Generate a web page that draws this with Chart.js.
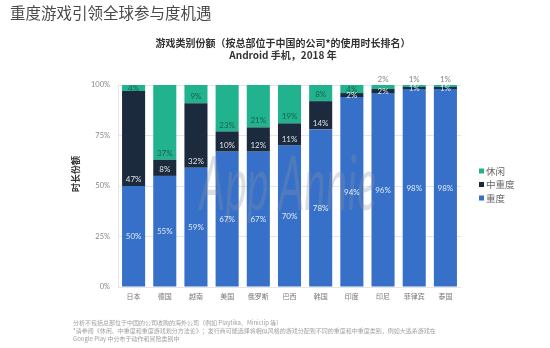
<!DOCTYPE html>
<html>
<head>
<meta charset="utf-8">
<script src="https://cdn.jsdelivr.net/npm/chart.js@4.4.0/dist/chart.umd.min.js"></script>
<style>
  html, body { margin: 0; padding: 0; background: #fff; }
  #wrap { width: 550px; height: 348px; position: relative; }
</style>
</head>
<body>
<div id="wrap"><canvas id="grafico"></canvas></div>
<script>
// datos
const paises = ["日本", "德国", "越南", "美国", "俄罗斯", "巴西", "韩国", "印度", "印尼", "菲律宾", "泰国"];
const zhongdu = [50, 55, 59, 67, 67, 70, 78, 94, 96, 98, 98];
const zhongzhongdu = [47, 8, 32, 10, 12, 11, 14, 2, 2, 1, 1];
const xiuxian = [4, 37, 9, 23, 21, 19, 8, 4, 2, 1, 1];
const yTicks = [0, 25, 50, 75, 100];

const CJK = '"Noto Sans CJK SC", sans-serif';
const NUM = 'Lato, "Noto Sans CJK SC", sans-serif';

const colores = {
  zhongdu: "#3670c8",
  zhongzhongdu: "#1c2a3e",
  xiuxian: "#20b38e"
};

// textos extra: título, subtítulo, eje, leyenda, notas, marca de agua
const textosPlugin = {
  id: "textos",
  beforeDatasetsDraw(chart) {
    const ctx = chart.ctx;
    ctx.save();
    ctx.fillStyle = "#4a4a4a";
    ctx.font = "15.5px " + CJK;
    ctx.textBaseline = "middle";
    ctx.textAlign = "left";
    ctx.fillText("重度游戏引领全球参与度机遇", 10, 13);

    ctx.fillStyle = "#333";
    ctx.font = "bold 10px " + CJK;
    ctx.textAlign = "center";
    ctx.fillText("游戏类别份额（按总部位于中国的公司*的使用时长排名）", 283, 43);
    ctx.fillText("Android 手机，2018 年", 283, 55);

    // título eje y
    ctx.save();
    ctx.translate(76, 174);
    ctx.rotate(-Math.PI / 2);
    ctx.font = "bold 9px " + CJK;
    ctx.fillStyle = "#333";
    ctx.fillText("时长份额", 0, 0);
    ctx.restore();

    // leyenda
    const items = [["休闲", colores.xiuxian], ["中重度", colores.zhongzhongdu], ["重度", colores.zhongdu]];
    ctx.textAlign = "left";
    ctx.font = "9.5px " + CJK;
    items.forEach((it, i) => {
      const y = 171 + i * 13.5;
      ctx.fillStyle = it[1];
      ctx.fillRect(479, y - 2.5, 5, 5);
      ctx.fillStyle = "#666";
      ctx.fillText(it[0], 486, y);
    });

    // notas
    ctx.font = "6px " + CJK;
    ctx.fillStyle = "#a0a0a0";
    ctx.fillText("分析不包括总部位于中国的公司收购的海外公司（例如 Playtika、Miniclip 等）", 73, 323);
    ctx.fillText("*请参阅《休闲、中重度和重度游戏划分方法论》；发行商可能选择将相似风格的游戏分配到不同的重度和中重度类别，例如大逃杀游戏在", 73, 331);
    ctx.fillText("Google Play 中分布于动作和冒险类别中", 73, 339);
    ctx.restore();
  },
  afterDatasetsDraw(chart) {
    const ctx = chart.ctx;
    ctx.save();
    // marca de agua
    ctx.fillStyle = "rgba(140,145,160,0.3)";
    ctx.font = "italic 76px Lato, sans-serif";
    ctx.textAlign = "center";
    ctx.textBaseline = "alphabetic";
    ctx.translate(288, 210);
    ctx.scale(0.54, 1);
    ctx.fillText("App Annie", 0, 0);
    ctx.restore();

    // etiquetas de valores
    const y = chart.scales.y;
    const top = chart.chartArea.top;
    ctx.save();
    ctx.font = "8px " + NUM;
    ctx.textAlign = "center";
    ctx.textBaseline = "middle";
    chart.data.datasets.forEach((ds, di) => {
      const meta = chart.getDatasetMeta(di);
      meta.data.forEach((bar, i) => {
        const v = ds.data[i];
        let base = 0;
        for (let k = 0; k < di; k++) base += chart.data.datasets[k].data[i];
        const yb = y.getPixelForValue(Math.min(base, 100));
        const yt = Math.max(y.getPixelForValue(base + v), top);
        const mid = (yb + yt) / 2;
        let ty;
        if (di === 0) {
          ty = mid;
          ctx.fillStyle = "rgba(255,255,255,0.85)";
        } else if (di === 2 && v <= 2) {
          ty = top - 6;
          ctx.fillStyle = "#888";
        } else {
          ty = Math.max(yb - 6.5, mid);
          ctx.fillStyle = di === 1 ? "rgba(255,255,255,0.85)" : "rgba(25,70,60,0.75)";
        }
        ctx.fillText(v + "%", bar.x, ty);
      });
    });
    ctx.restore();
  }
};

new Chart(document.getElementById("grafico").getContext("2d"), {
  type: "bar",
  data: {
    labels: paises,
    datasets: [
      { label: "重度", data: zhongdu, backgroundColor: colores.zhongdu },
      { label: "中重度", data: zhongzhongdu, backgroundColor: colores.zhongzhongdu },
      { label: "休闲", data: xiuxian, backgroundColor: colores.xiuxian }
    ]
  },
  options: {
    responsive: true,
    maintainAspectRatio: false,
    animation: false,
    layout: { padding: { left: 68, top: 85, right: 89, bottom: 41 } },
    plugins: {
      legend: { display: false },
      tooltip: { enabled: false }
    },
    datasets: { bar: { barPercentage: 0.74, categoryPercentage: 1 } },
    scales: {
      x: {
        stacked: true,
        grid: { display: false, drawTicks: false },
        border: { display: false },
        ticks: { color: "#777", font: { size: 7, family: CJK }, padding: 5 },
        afterFit(s) { s.height = 20; }
      },
      y: {
        stacked: true,
        min: 0,
        max: 100,
        afterBuildTicks(s) { s.ticks = yTicks.map(v => ({ value: v })); },
        grid: { color: "#e6e6e6", drawTicks: false },
        border: { display: true, color: "#e6e6e6" },
        ticks: {
          color: "#888",
          font: { size: 7.5, family: NUM },
          padding: 8,
          callback: v => v + "%"
        },
        afterFit(s) { s.width = 50; }
      }
    }
  },
  plugins: [textosPlugin]
});
</script>
</body>
</html>
